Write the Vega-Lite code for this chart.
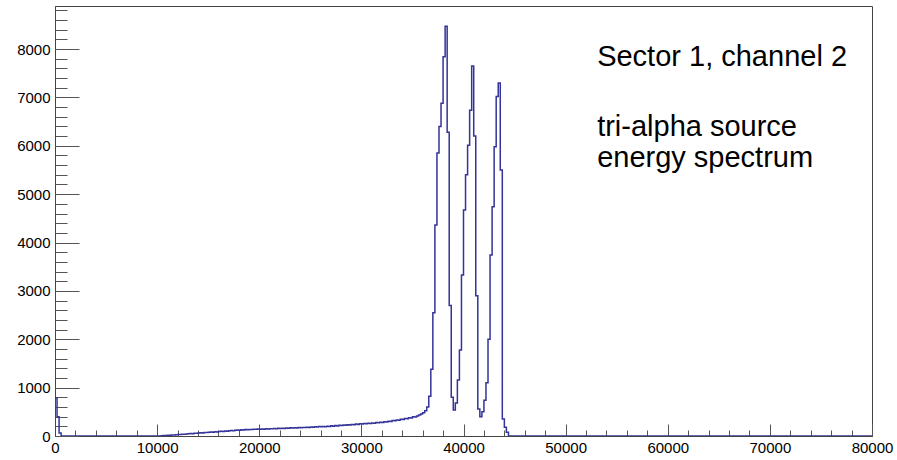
{
  "$schema": "https://vega.github.io/schema/vega-lite/v6.json",
  "width": 817,
  "height": 430,
  "autosize": {"type": "none"},
  "padding": {"left": 55, "top": 6, "right": 25, "bottom": 24},
  "background": "white",
  "config": {
    "view": {"stroke": "#444", "strokeWidth": 1},
    "font": "Liberation Sans",
    "axis": {"grid": false, "title": null}
  },
  "data": {"values": [
    {"e": 0, "n": 790}, {"e": 200, "n": 400}, {"e": 400, "n": 60}, {"e": 600, "n": 0},
    {"e": 10400, "n": 5}, {"e": 10600, "n": 8}, {"e": 10800, "n": 12}, {"e": 11000, "n": 15},
    {"e": 11200, "n": 18}, {"e": 11400, "n": 22}, {"e": 11600, "n": 20}, {"e": 11800, "n": 28},
    {"e": 12000, "n": 30}, {"e": 12200, "n": 33}, {"e": 12400, "n": 38}, {"e": 12600, "n": 36},
    {"e": 12800, "n": 42}, {"e": 13000, "n": 45}, {"e": 13200, "n": 50}, {"e": 13400, "n": 47},
    {"e": 13600, "n": 55}, {"e": 13800, "n": 58}, {"e": 14000, "n": 60}, {"e": 14200, "n": 66},
    {"e": 14400, "n": 63}, {"e": 14600, "n": 72}, {"e": 14800, "n": 70}, {"e": 15000, "n": 75},
    {"e": 15200, "n": 82}, {"e": 15400, "n": 78}, {"e": 15600, "n": 88}, {"e": 15800, "n": 85},
    {"e": 16000, "n": 92}, {"e": 16200, "n": 98}, {"e": 16400, "n": 95}, {"e": 16600, "n": 104},
    {"e": 16800, "n": 100}, {"e": 17000, "n": 108}, {"e": 17200, "n": 115}, {"e": 17400, "n": 110},
    {"e": 17600, "n": 118}, {"e": 17800, "n": 122}, {"e": 18000, "n": 120}, {"e": 18200, "n": 128},
    {"e": 18400, "n": 125}, {"e": 18600, "n": 133}, {"e": 18800, "n": 130}, {"e": 19000, "n": 136},
    {"e": 19200, "n": 132}, {"e": 19400, "n": 140}, {"e": 19600, "n": 137}, {"e": 19800, "n": 143},
    {"e": 20000, "n": 140}, {"e": 20200, "n": 146}, {"e": 20400, "n": 142}, {"e": 20600, "n": 150},
    {"e": 20800, "n": 145}, {"e": 21000, "n": 152}, {"e": 21200, "n": 148}, {"e": 21400, "n": 155},
    {"e": 21600, "n": 150}, {"e": 21800, "n": 158}, {"e": 22000, "n": 154}, {"e": 22200, "n": 162},
    {"e": 22400, "n": 156}, {"e": 22600, "n": 165}, {"e": 22800, "n": 160}, {"e": 23000, "n": 168},
    {"e": 23200, "n": 164}, {"e": 23400, "n": 172}, {"e": 23600, "n": 166}, {"e": 23800, "n": 175},
    {"e": 24000, "n": 170}, {"e": 24200, "n": 178}, {"e": 24400, "n": 174}, {"e": 24600, "n": 182},
    {"e": 24800, "n": 178}, {"e": 25000, "n": 186}, {"e": 25200, "n": 181}, {"e": 25400, "n": 190},
    {"e": 25600, "n": 185}, {"e": 25800, "n": 194}, {"e": 26000, "n": 189}, {"e": 26200, "n": 198},
    {"e": 26400, "n": 193}, {"e": 26600, "n": 204}, {"e": 26800, "n": 198}, {"e": 27000, "n": 210},
    {"e": 27200, "n": 204}, {"e": 27400, "n": 215}, {"e": 27600, "n": 209}, {"e": 27800, "n": 222},
    {"e": 28000, "n": 216}, {"e": 28200, "n": 228}, {"e": 28400, "n": 222}, {"e": 28600, "n": 234},
    {"e": 28800, "n": 229}, {"e": 29000, "n": 240}, {"e": 29200, "n": 235}, {"e": 29400, "n": 246},
    {"e": 29600, "n": 240}, {"e": 29800, "n": 252}, {"e": 30000, "n": 247}, {"e": 30200, "n": 258},
    {"e": 30400, "n": 252}, {"e": 30600, "n": 264}, {"e": 30800, "n": 259}, {"e": 31000, "n": 270},
    {"e": 31200, "n": 265}, {"e": 31400, "n": 278}, {"e": 31600, "n": 272}, {"e": 31800, "n": 286},
    {"e": 32000, "n": 281}, {"e": 32200, "n": 295}, {"e": 32400, "n": 290}, {"e": 32600, "n": 306},
    {"e": 32800, "n": 301}, {"e": 33000, "n": 318}, {"e": 33200, "n": 314}, {"e": 33400, "n": 332},
    {"e": 33600, "n": 327}, {"e": 33800, "n": 346}, {"e": 34000, "n": 342}, {"e": 34200, "n": 360},
    {"e": 34400, "n": 356}, {"e": 34600, "n": 378}, {"e": 34800, "n": 374}, {"e": 35000, "n": 396},
    {"e": 35200, "n": 392}, {"e": 35400, "n": 416}, {"e": 35600, "n": 432}, {"e": 35800, "n": 455},
    {"e": 36000, "n": 480}, {"e": 36200, "n": 520}, {"e": 36400, "n": 600}, {"e": 36600, "n": 820},
    {"e": 36800, "n": 1380}, {"e": 37000, "n": 2550}, {"e": 37200, "n": 4360}, {"e": 37400, "n": 5850},
    {"e": 37600, "n": 6400}, {"e": 37800, "n": 6880}, {"e": 38000, "n": 7840}, {"e": 38200, "n": 8470},
    {"e": 38400, "n": 6280}, {"e": 38600, "n": 2700}, {"e": 38800, "n": 800}, {"e": 39000, "n": 540},
    {"e": 39200, "n": 680}, {"e": 39400, "n": 1160}, {"e": 39600, "n": 1780}, {"e": 39800, "n": 3330},
    {"e": 40000, "n": 4670}, {"e": 40200, "n": 5400}, {"e": 40400, "n": 6010}, {"e": 40600, "n": 6735},
    {"e": 40800, "n": 7650}, {"e": 41000, "n": 6200}, {"e": 41200, "n": 2900}, {"e": 41400, "n": 560},
    {"e": 41600, "n": 400}, {"e": 41800, "n": 500}, {"e": 42000, "n": 740}, {"e": 42200, "n": 1100},
    {"e": 42400, "n": 2000}, {"e": 42600, "n": 3740}, {"e": 42800, "n": 4740}, {"e": 43000, "n": 5980},
    {"e": 43200, "n": 7020}, {"e": 43400, "n": 7300}, {"e": 43600, "n": 5500}, {"e": 43800, "n": 350},
    {"e": 44000, "n": 180}, {"e": 44200, "n": 80}, {"e": 44400, "n": 0}, {"e": 80000, "n": 0}
  ]},
  "layer": [
    {
      "mark": {"type": "line", "interpolate": "step-after", "color": "#333399", "strokeWidth": 1.5, "clip": true},
      "encoding": {
        "x": {"field": "e", "type": "quantitative",
          "scale": {"domain": [0, 80000], "nice": false, "zero": false},
          "axis": {"orient": "bottom", "values": [0, 10000, 20000, 30000, 40000, 50000, 60000, 70000, 80000],
            "ticks": false, "domain": true, "domainColor": "#444", "labelFontSize": 15, "labelColor": "#000",
            "labelPadding": 4, "labelFlush": false, "labelOverlap": false, "format": "d", "title": null}},
        "y": {"field": "n", "type": "quantitative",
          "scale": {"domain": [0, 8890], "nice": false},
          "axis": {"orient": "left", "values": [0, 1000, 2000, 3000, 4000, 5000, 6000, 7000, 8000],
            "ticks": false, "domain": true, "domainColor": "#444", "labelFontSize": 15, "labelColor": "#000",
            "labelPadding": 5, "labelFlush": false, "labelOverlap": false, "format": "d", "title": null}}
      }
    },
    {
      "mark": {"type": "line", "opacity": 0},
      "encoding": {
        "x": {"field": "e", "type": "quantitative",
          "axis": {"orient": "bottom", "values": [0, 10000, 20000, 30000, 40000, 50000, 60000, 70000, 80000],
            "labels": false, "domain": false, "ticks": true, "tickSize": -12, "tickColor": "#555", "title": null}},
        "y": {"field": "n", "type": "quantitative",
          "axis": {"orient": "left", "values": [0, 1000, 2000, 3000, 4000, 5000, 6000, 7000, 8000],
            "labels": false, "domain": false, "ticks": true, "tickSize": -24, "tickColor": "#555", "title": null}}
      }
    },
    {
      "mark": {"type": "line", "opacity": 0},
      "encoding": {
        "x": {"field": "e", "type": "quantitative",
          "axis": {"orient": "bottom", "values": [0, 2000, 4000, 6000, 8000, 10000, 12000, 14000, 16000, 18000, 20000, 22000, 24000, 26000, 28000, 30000, 32000, 34000, 36000, 38000, 40000, 42000, 44000, 46000, 48000, 50000, 52000, 54000, 56000, 58000, 60000, 62000, 64000, 66000, 68000, 70000, 72000, 74000, 76000, 78000, 80000],
            "labels": false, "domain": false, "ticks": true, "tickSize": -6, "tickColor": "#555", "title": null}},
        "y": {"field": "n", "type": "quantitative",
          "axis": {"orient": "left", "values": [0, 200, 400, 600, 800, 1000, 1200, 1400, 1600, 1800, 2000, 2200, 2400, 2600, 2800, 3000, 3200, 3400, 3600, 3800, 4000, 4200, 4400, 4600, 4800, 5000, 5200, 5400, 5600, 5800, 6000, 6200, 6400, 6600, 6800, 7000, 7200, 7400, 7600, 7800, 8000, 8200, 8400, 8600, 8800],
            "labels": false, "domain": false, "ticks": true, "tickSize": -12, "tickColor": "#555", "title": null}}
      }
    },
    {
      "data": {"values": [{"t": "Sector 1, channel 2"}]},
      "mark": {"type": "text", "align": "left", "baseline": "middle", "fontSize": 29, "font": "Liberation Sans", "color": "#000"},
      "encoding": {
        "text": {"field": "t"},
        "x": {"datum": 53085, "type": "quantitative", "axis": null},
        "y": {"datum": 7835, "type": "quantitative", "axis": null}
      }
    },
    {
      "data": {"values": [{"t": ["tri-alpha source", "energy spectrum"]}]},
      "mark": {"type": "text", "align": "left", "baseline": "middle", "fontSize": 29, "lineHeight": 31, "font": "Liberation Sans", "color": "#000"},
      "encoding": {
        "text": {"field": "t"},
        "x": {"datum": 53085, "type": "quantitative", "axis": null},
        "y": {"datum": 6390, "type": "quantitative", "axis": null}
      }
    }
  ],
  "resolve": {"axis": {"x": "independent", "y": "independent"}}
}
